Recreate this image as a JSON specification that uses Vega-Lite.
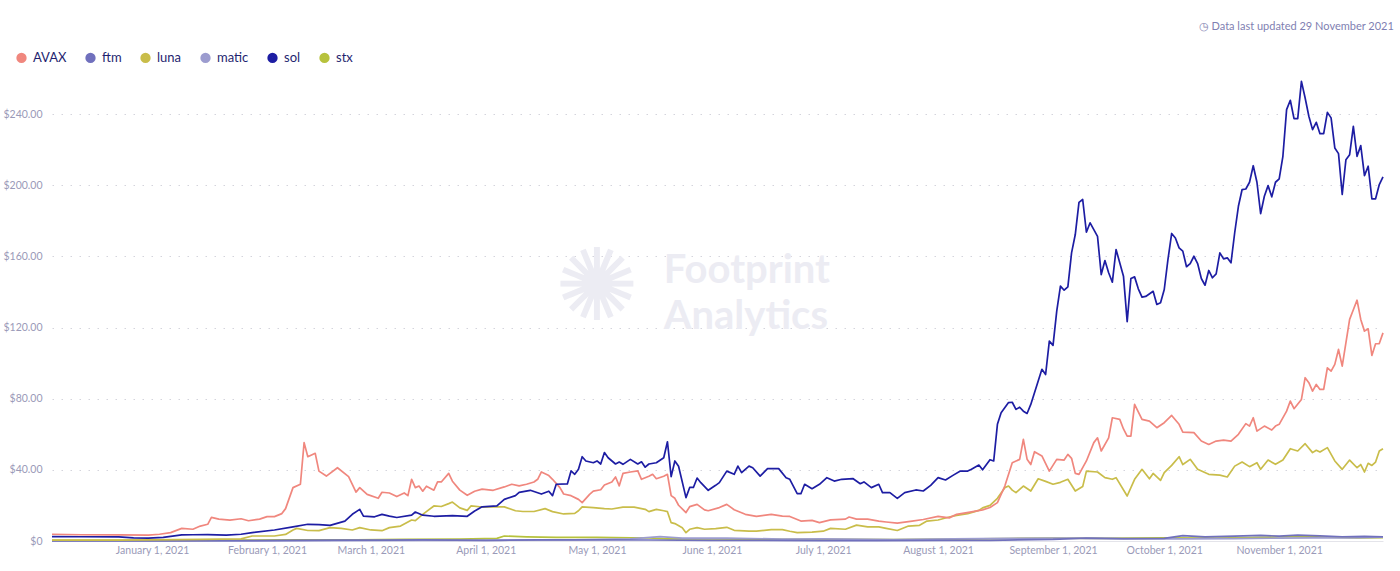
{
  "$schema": "https://vega.github.io/schema/vega-lite/v6.json",
  "description": "Token prices AVAX, ftm, luna, matic, sol, stx - Dec 2020 to Nov 2021",
  "autosize": {"type": "none"},
  "padding": {"left": 52, "top": 75, "right": 17, "bottom": 30},
  "width": 1331,
  "height": 466,
  "background": "white",
  "config": {"font": "Lato", "view": {"stroke": null}},
  "title": {
    "text": "◷  Data last updated 29 November 2021",
    "anchor": "end",
    "orient": "top",
    "offset": 19,
    "dx": 10,
    "fontSize": 11,
    "fontWeight": "normal",
    "color": "#7f7fb2",
    "font": "Lato"
  },
  "layer": [
    {
      "data": {"values": [{}]},
      "mark": {"type": "text", "text": "✺", "fontSize": 100, "color": "#ececf3", "align": "center", "baseline": "middle"},
      "encoding": {
        "x": {"datum": {"year": 2021, "month": 5, "date": 1}, "type": "temporal"},
        "y": {"datum": 141, "type": "quantitative"}
      }
    },
    {
      "data": {"values": [{}]},
      "mark": {"type": "text", "text": "Footprint", "fontSize": 40, "fontWeight": "bold", "color": "#ececf3", "align": "left", "baseline": "middle"},
      "encoding": {
        "x": {"datum": {"year": 2021, "month": 5, "date": 19}, "type": "temporal"},
        "y": {"datum": 152, "type": "quantitative"}
      }
    },
    {
      "data": {"values": [{}]},
      "mark": {"type": "text", "text": "Analytics", "fontSize": 40, "fontWeight": "bold", "color": "#ececf3", "align": "left", "baseline": "middle"},
      "encoding": {
        "x": {"datum": {"year": 2021, "month": 5, "date": 19}, "type": "temporal"},
        "y": {"datum": 126, "type": "quantitative"}
      }
    },
    {
      "data": {"values": [
        {"d":"2020-12-05","s":"stx","v":0.35},{"d":"2020-12-25","s":"stx","v":0.35},{"d":"2021-01-10","s":"stx","v":0.35},{"d":"2021-01-25","s":"stx","v":0.45},{"d":"2021-02-10","s":"stx","v":0.7},{"d":"2021-02-25","s":"stx","v":0.7},{"d":"2021-03-10","s":"stx","v":0.9},{"d":"2021-03-25","s":"stx","v":1.1},{"d":"2021-04-04","s":"stx","v":1.5},{"d":"2021-04-06","s":"stx","v":2.8},{"d":"2021-04-12","s":"stx","v":2.3},{"d":"2021-04-20","s":"stx","v":2.0},{"d":"2021-05-01","s":"stx","v":2.0},{"d":"2021-05-15","s":"stx","v":1.7},{"d":"2021-05-20","s":"stx","v":1.2},{"d":"2021-06-01","s":"stx","v":1.2},{"d":"2021-06-20","s":"stx","v":0.9},{"d":"2021-07-05","s":"stx","v":0.9},{"d":"2021-07-20","s":"stx","v":0.8},{"d":"2021-08-05","s":"stx","v":1.1},{"d":"2021-08-20","s":"stx","v":1.4},{"d":"2021-09-01","s":"stx","v":1.6},{"d":"2021-09-15","s":"stx","v":1.5},{"d":"2021-10-01","s":"stx","v":1.8},{"d":"2021-10-15","s":"stx","v":1.7},{"d":"2021-11-01","s":"stx","v":2.3},{"d":"2021-11-07","s":"stx","v":2.6},{"d":"2021-11-15","s":"stx","v":2.1},{"d":"2021-11-22","s":"stx","v":1.8},{"d":"2021-11-29","s":"stx","v":1.9},

        {"d":"2020-12-05","s":"matic","v":0.02},{"d":"2021-01-05","s":"matic","v":0.02},{"d":"2021-02-01","s":"matic","v":0.05},{"d":"2021-02-20","s":"matic","v":0.25},{"d":"2021-03-15","s":"matic","v":0.4},{"d":"2021-04-05","s":"matic","v":0.4},{"d":"2021-04-25","s":"matic","v":0.6},{"d":"2021-05-10","s":"matic","v":1.2},{"d":"2021-05-18","s":"matic","v":2.5},{"d":"2021-05-24","s":"matic","v":1.6},{"d":"2021-06-05","s":"matic","v":1.6},{"d":"2021-06-20","s":"matic","v":1.1},{"d":"2021-07-01","s":"matic","v":1.2},{"d":"2021-07-20","s":"matic","v":0.8},{"d":"2021-08-05","s":"matic","v":1.2},{"d":"2021-08-20","s":"matic","v":1.5},{"d":"2021-09-05","s":"matic","v":1.7},{"d":"2021-09-20","s":"matic","v":1.2},{"d":"2021-10-05","s":"matic","v":1.2},{"d":"2021-10-20","s":"matic","v":1.3},{"d":"2021-11-01","s":"matic","v":1.6},{"d":"2021-11-10","s":"matic","v":1.8},{"d":"2021-11-20","s":"matic","v":1.7},{"d":"2021-11-29","s":"matic","v":2.1},

        {"d":"2020-12-05","s":"ftm","v":0.05},{"d":"2020-12-20","s":"ftm","v":0.05},{"d":"2021-01-05","s":"ftm","v":0.1},{"d":"2021-01-20","s":"ftm","v":0.2},{"d":"2021-02-05","s":"ftm","v":0.3},{"d":"2021-02-20","s":"ftm","v":0.5},{"d":"2021-03-05","s":"ftm","v":0.45},{"d":"2021-03-15","s":"ftm","v":0.6},{"d":"2021-04-01","s":"ftm","v":0.4},{"d":"2021-04-15","s":"ftm","v":0.6},{"d":"2021-05-01","s":"ftm","v":0.6},{"d":"2021-05-15","s":"ftm","v":0.55},{"d":"2021-06-01","s":"ftm","v":0.35},{"d":"2021-06-15","s":"ftm","v":0.3},{"d":"2021-07-01","s":"ftm","v":0.25},{"d":"2021-07-15","s":"ftm","v":0.2},{"d":"2021-08-01","s":"ftm","v":0.3},{"d":"2021-08-15","s":"ftm","v":0.4},{"d":"2021-09-01","s":"ftm","v":0.9},{"d":"2021-09-10","s":"ftm","v":1.6},{"d":"2021-09-20","s":"ftm","v":1.3},{"d":"2021-10-01","s":"ftm","v":1.5},{"d":"2021-10-06","s":"ftm","v":3.0},{"d":"2021-10-12","s":"ftm","v":2.3},{"d":"2021-10-20","s":"ftm","v":2.7},{"d":"2021-10-27","s":"ftm","v":3.2},{"d":"2021-11-01","s":"ftm","v":2.7},{"d":"2021-11-06","s":"ftm","v":3.3},{"d":"2021-11-12","s":"ftm","v":2.9},{"d":"2021-11-18","s":"ftm","v":2.4},{"d":"2021-11-24","s":"ftm","v":2.6},{"d":"2021-11-29","s":"ftm","v":2.4},

        {"d":"2020-12-05","s":"luna","v":0.5},{"d":"2020-12-23","s":"luna","v":0.5},{"d":"2021-01-01","s":"luna","v":0.6},{"d":"2021-01-14","s":"luna","v":0.9},{"d":"2021-01-25","s":"luna","v":1.2},{"d":"2021-01-28","s":"luna","v":2.8},{"d":"2021-02-03","s":"luna","v":2.8},{"d":"2021-02-06","s":"luna","v":3.7},{"d":"2021-02-08","s":"luna","v":6.2},{"d":"2021-02-09","s":"luna","v":7.1},{"d":"2021-02-12","s":"luna","v":5.9},{"d":"2021-02-15","s":"luna","v":5.8},{"d":"2021-02-18","s":"luna","v":7.5},{"d":"2021-02-21","s":"luna","v":7.1},{"d":"2021-02-24","s":"luna","v":6.2},{"d":"2021-02-26","s":"luna","v":7.5},{"d":"2021-03-01","s":"luna","v":6.2},{"d":"2021-03-04","s":"luna","v":5.8},{"d":"2021-03-06","s":"luna","v":7.5},{"d":"2021-03-09","s":"luna","v":8.4},{"d":"2021-03-12","s":"luna","v":11.8},{"d":"2021-03-13","s":"luna","v":11.5},{"d":"2021-03-15","s":"luna","v":15},{"d":"2021-03-18","s":"luna","v":19.7},{"d":"2021-03-20","s":"luna","v":19.4},{"d":"2021-03-22","s":"luna","v":21},{"d":"2021-03-23","s":"luna","v":21.9},{"d":"2021-03-25","s":"luna","v":18.6},{"d":"2021-03-27","s":"luna","v":17.2},{"d":"2021-03-28","s":"luna","v":19.7},{"d":"2021-03-31","s":"luna","v":19.1},{"d":"2021-04-02","s":"luna","v":19.2},{"d":"2021-04-06","s":"luna","v":19.2},{"d":"2021-04-09","s":"luna","v":17},{"d":"2021-04-11","s":"luna","v":16.6},{"d":"2021-04-14","s":"luna","v":16.6},{"d":"2021-04-17","s":"luna","v":18.2},{"d":"2021-04-19","s":"luna","v":16.5},{"d":"2021-04-22","s":"luna","v":15.2},{"d":"2021-04-25","s":"luna","v":15.5},{"d":"2021-04-26","s":"luna","v":17},{"d":"2021-04-27","s":"luna","v":19.2},{"d":"2021-04-30","s":"luna","v":18.8},{"d":"2021-05-03","s":"luna","v":18.2},{"d":"2021-05-05","s":"luna","v":18},{"d":"2021-05-08","s":"luna","v":19},{"d":"2021-05-11","s":"luna","v":19},{"d":"2021-05-14","s":"luna","v":17.8},{"d":"2021-05-15","s":"luna","v":16.5},{"d":"2021-05-17","s":"luna","v":17.8},{"d":"2021-05-19","s":"luna","v":17},{"d":"2021-05-20","s":"luna","v":16.5},{"d":"2021-05-21","s":"luna","v":10.3},{"d":"2021-05-22","s":"luna","v":9.8},{"d":"2021-05-24","s":"luna","v":7.5},{"d":"2021-05-25","s":"luna","v":4.7},{"d":"2021-05-26","s":"luna","v":6.6},{"d":"2021-05-28","s":"luna","v":7.5},{"d":"2021-05-30","s":"luna","v":6.6},{"d":"2021-06-02","s":"luna","v":7},{"d":"2021-06-05","s":"luna","v":7.7},{"d":"2021-06-07","s":"luna","v":6},{"d":"2021-06-11","s":"luna","v":5.5},{"d":"2021-06-13","s":"luna","v":5.5},{"d":"2021-06-17","s":"luna","v":6.4},{"d":"2021-06-20","s":"luna","v":6.4},{"d":"2021-06-22","s":"luna","v":5.5},{"d":"2021-06-24","s":"luna","v":4.7},{"d":"2021-06-28","s":"luna","v":5},{"d":"2021-07-01","s":"luna","v":5.5},{"d":"2021-07-03","s":"luna","v":7.1},{"d":"2021-07-07","s":"luna","v":6.6},{"d":"2021-07-10","s":"luna","v":8.9},{"d":"2021-07-13","s":"luna","v":7.9},{"d":"2021-07-16","s":"luna","v":7.9},{"d":"2021-07-18","s":"luna","v":7.1},{"d":"2021-07-21","s":"luna","v":5.9},{"d":"2021-07-24","s":"luna","v":8.4},{"d":"2021-07-27","s":"luna","v":8.8},{"d":"2021-07-29","s":"luna","v":11.2},{"d":"2021-08-01","s":"luna","v":11.8},{"d":"2021-08-04","s":"luna","v":13.5},{"d":"2021-08-06","s":"luna","v":14.4},{"d":"2021-08-09","s":"luna","v":15.4},{"d":"2021-08-12","s":"luna","v":17.2},{"d":"2021-08-13","s":"luna","v":18.6},{"d":"2021-08-15","s":"luna","v":20},{"d":"2021-08-17","s":"luna","v":24},{"d":"2021-08-19","s":"luna","v":30},{"d":"2021-08-20","s":"luna","v":30.9},{"d":"2021-08-21","s":"luna","v":28.6},{"d":"2021-08-22","s":"luna","v":27.2},{"d":"2021-08-24","s":"luna","v":30.9},{"d":"2021-08-26","s":"luna","v":28.1},{"d":"2021-08-28","s":"luna","v":35},{"d":"2021-08-30","s":"luna","v":33.5},{"d":"2021-09-01","s":"luna","v":31.9},{"d":"2021-09-03","s":"luna","v":33},{"d":"2021-09-05","s":"luna","v":34.7},{"d":"2021-09-07","s":"luna","v":28.1},{"d":"2021-09-09","s":"luna","v":30.6},{"d":"2021-09-10","s":"luna","v":39.3},{"d":"2021-09-13","s":"luna","v":38.8},{"d":"2021-09-15","s":"luna","v":35.6},{"d":"2021-09-17","s":"luna","v":34.7},{"d":"2021-09-18","s":"luna","v":35.6},{"d":"2021-09-21","s":"luna","v":25.3},{"d":"2021-09-23","s":"luna","v":34.7},{"d":"2021-09-25","s":"luna","v":40.3},{"d":"2021-09-27","s":"luna","v":35},{"d":"2021-09-28","s":"luna","v":38},{"d":"2021-09-30","s":"luna","v":34.1},{"d":"2021-10-01","s":"luna","v":38.4},{"d":"2021-10-03","s":"luna","v":42.5},{"d":"2021-10-05","s":"luna","v":47.4},{"d":"2021-10-06","s":"luna","v":43},{"d":"2021-10-08","s":"luna","v":45.9},{"d":"2021-10-10","s":"luna","v":40.3},{"d":"2021-10-13","s":"luna","v":37.5},{"d":"2021-10-16","s":"luna","v":37},{"d":"2021-10-18","s":"luna","v":36},{"d":"2021-10-20","s":"luna","v":42.1},{"d":"2021-10-22","s":"luna","v":44.4},{"d":"2021-10-24","s":"luna","v":41.8},{"d":"2021-10-26","s":"luna","v":44},{"d":"2021-10-27","s":"luna","v":40.3},{"d":"2021-10-29","s":"luna","v":45.5},{"d":"2021-10-31","s":"luna","v":43.1},{"d":"2021-11-02","s":"luna","v":45.5},{"d":"2021-11-04","s":"luna","v":51.9},{"d":"2021-11-06","s":"luna","v":50.6},{"d":"2021-11-08","s":"luna","v":54.7},{"d":"2021-11-10","s":"luna","v":49.7},{"d":"2021-11-11","s":"luna","v":51},{"d":"2021-11-12","s":"luna","v":50},{"d":"2021-11-14","s":"luna","v":52.5},{"d":"2021-11-16","s":"luna","v":45},{"d":"2021-11-18","s":"luna","v":40.3},{"d":"2021-11-20","s":"luna","v":45.5},{"d":"2021-11-22","s":"luna","v":41.2},{"d":"2021-11-23","s":"luna","v":43},{"d":"2021-11-24","s":"luna","v":38.8},{"d":"2021-11-25","s":"luna","v":43.7},{"d":"2021-11-26","s":"luna","v":42.5},{"d":"2021-11-27","s":"luna","v":44.4},{"d":"2021-11-28","s":"luna","v":50.6},{"d":"2021-11-29","s":"luna","v":51.9},

        {"d":"2020-12-05","s":"AVAX","v":3.8},{"d":"2020-12-13","s":"AVAX","v":3.5},{"d":"2020-12-23","s":"AVAX","v":3.4},{"d":"2020-12-31","s":"AVAX","v":3.3},{"d":"2021-01-03","s":"AVAX","v":3.8},{"d":"2021-01-06","s":"AVAX","v":4.7},{"d":"2021-01-09","s":"AVAX","v":7.1},{"d":"2021-01-12","s":"AVAX","v":6.6},{"d":"2021-01-14","s":"AVAX","v":8.4},{"d":"2021-01-16","s":"AVAX","v":9.4},{"d":"2021-01-17","s":"AVAX","v":13.3},{"d":"2021-01-19","s":"AVAX","v":12.3},{"d":"2021-01-22","s":"AVAX","v":11.7},{"d":"2021-01-25","s":"AVAX","v":12.5},{"d":"2021-01-27","s":"AVAX","v":11.4},{"d":"2021-01-30","s":"AVAX","v":12.3},{"d":"2021-02-01","s":"AVAX","v":13.7},{"d":"2021-02-03","s":"AVAX","v":13.7},{"d":"2021-02-05","s":"AVAX","v":15.4},{"d":"2021-02-06","s":"AVAX","v":18.2},{"d":"2021-02-08","s":"AVAX","v":30},{"d":"2021-02-10","s":"AVAX","v":31.9},{"d":"2021-02-11","s":"AVAX","v":55.3},{"d":"2021-02-12","s":"AVAX","v":47.4},{"d":"2021-02-14","s":"AVAX","v":49.3},{"d":"2021-02-15","s":"AVAX","v":39.3},{"d":"2021-02-17","s":"AVAX","v":36.5},{"d":"2021-02-20","s":"AVAX","v":41.2},{"d":"2021-02-23","s":"AVAX","v":36.2},{"d":"2021-02-25","s":"AVAX","v":27.5},{"d":"2021-02-26","s":"AVAX","v":30},{"d":"2021-02-28","s":"AVAX","v":26.2},{"d":"2021-03-03","s":"AVAX","v":24},{"d":"2021-03-04","s":"AVAX","v":27.4},{"d":"2021-03-06","s":"AVAX","v":27},{"d":"2021-03-08","s":"AVAX","v":25},{"d":"2021-03-10","s":"AVAX","v":27},{"d":"2021-03-11","s":"AVAX","v":25.5},{"d":"2021-03-12","s":"AVAX","v":34.7},{"d":"2021-03-13","s":"AVAX","v":30},{"d":"2021-03-14","s":"AVAX","v":30.9},{"d":"2021-03-15","s":"AVAX","v":28},{"d":"2021-03-16","s":"AVAX","v":30.8},{"d":"2021-03-18","s":"AVAX","v":28.6},{"d":"2021-03-19","s":"AVAX","v":33.2},{"d":"2021-03-20","s":"AVAX","v":33.2},{"d":"2021-03-22","s":"AVAX","v":38},{"d":"2021-03-23","s":"AVAX","v":33.6},{"d":"2021-03-25","s":"AVAX","v":28.6},{"d":"2021-03-27","s":"AVAX","v":25.7},{"d":"2021-03-29","s":"AVAX","v":28},{"d":"2021-03-31","s":"AVAX","v":29.2},{"d":"2021-04-03","s":"AVAX","v":28.5},{"d":"2021-04-06","s":"AVAX","v":30.4},{"d":"2021-04-08","s":"AVAX","v":31.9},{"d":"2021-04-10","s":"AVAX","v":31},{"d":"2021-04-12","s":"AVAX","v":31.9},{"d":"2021-04-14","s":"AVAX","v":33.2},{"d":"2021-04-15","s":"AVAX","v":34.7},{"d":"2021-04-16","s":"AVAX","v":38.8},{"d":"2021-04-18","s":"AVAX","v":36.8},{"d":"2021-04-19","s":"AVAX","v":34.7},{"d":"2021-04-21","s":"AVAX","v":30},{"d":"2021-04-22","s":"AVAX","v":26.4},{"d":"2021-04-24","s":"AVAX","v":25.5},{"d":"2021-04-26","s":"AVAX","v":23.4},{"d":"2021-04-27","s":"AVAX","v":21.6},{"d":"2021-04-29","s":"AVAX","v":26.2},{"d":"2021-04-30","s":"AVAX","v":28},{"d":"2021-05-02","s":"AVAX","v":28.8},{"d":"2021-05-03","s":"AVAX","v":31.5},{"d":"2021-05-05","s":"AVAX","v":33.2},{"d":"2021-05-06","s":"AVAX","v":36},{"d":"2021-05-07","s":"AVAX","v":31},{"d":"2021-05-08","s":"AVAX","v":38},{"d":"2021-05-10","s":"AVAX","v":38.8},{"d":"2021-05-12","s":"AVAX","v":39.4},{"d":"2021-05-13","s":"AVAX","v":34.7},{"d":"2021-05-15","s":"AVAX","v":36.4},{"d":"2021-05-16","s":"AVAX","v":37.5},{"d":"2021-05-17","s":"AVAX","v":35},{"d":"2021-05-19","s":"AVAX","v":36.4},{"d":"2021-05-20","s":"AVAX","v":37.5},{"d":"2021-05-21","s":"AVAX","v":25.5},{"d":"2021-05-22","s":"AVAX","v":24},{"d":"2021-05-23","s":"AVAX","v":20.1},{"d":"2021-05-25","s":"AVAX","v":16},{"d":"2021-05-26","s":"AVAX","v":19.3},{"d":"2021-05-28","s":"AVAX","v":20.6},{"d":"2021-05-30","s":"AVAX","v":17.5},{"d":"2021-05-31","s":"AVAX","v":17},{"d":"2021-06-03","s":"AVAX","v":18.8},{"d":"2021-06-05","s":"AVAX","v":20.6},{"d":"2021-06-07","s":"AVAX","v":17.6},{"d":"2021-06-10","s":"AVAX","v":15},{"d":"2021-06-13","s":"AVAX","v":13.8},{"d":"2021-06-17","s":"AVAX","v":15},{"d":"2021-06-20","s":"AVAX","v":14},{"d":"2021-06-22","s":"AVAX","v":13.8},{"d":"2021-06-25","s":"AVAX","v":11.2},{"d":"2021-06-28","s":"AVAX","v":11.6},{"d":"2021-06-30","s":"AVAX","v":10.3},{"d":"2021-07-03","s":"AVAX","v":11.9},{"d":"2021-07-07","s":"AVAX","v":12.3},{"d":"2021-07-08","s":"AVAX","v":13.5},{"d":"2021-07-10","s":"AVAX","v":12.3},{"d":"2021-07-13","s":"AVAX","v":12.3},{"d":"2021-07-16","s":"AVAX","v":11.2},{"d":"2021-07-18","s":"AVAX","v":10.7},{"d":"2021-07-21","s":"AVAX","v":10},{"d":"2021-07-25","s":"AVAX","v":11.2},{"d":"2021-07-28","s":"AVAX","v":12.1},{"d":"2021-08-01","s":"AVAX","v":13.8},{"d":"2021-08-04","s":"AVAX","v":13},{"d":"2021-08-06","s":"AVAX","v":15},{"d":"2021-08-10","s":"AVAX","v":16.4},{"d":"2021-08-13","s":"AVAX","v":17.5},{"d":"2021-08-15","s":"AVAX","v":18.8},{"d":"2021-08-17","s":"AVAX","v":21.6},{"d":"2021-08-19","s":"AVAX","v":30.9},{"d":"2021-08-21","s":"AVAX","v":44},{"d":"2021-08-23","s":"AVAX","v":45.9},{"d":"2021-08-24","s":"AVAX","v":57.1},{"d":"2021-08-25","s":"AVAX","v":46},{"d":"2021-08-26","s":"AVAX","v":43},{"d":"2021-08-27","s":"AVAX","v":50.2},{"d":"2021-08-29","s":"AVAX","v":47.8},{"d":"2021-08-31","s":"AVAX","v":39.3},{"d":"2021-09-02","s":"AVAX","v":45.9},{"d":"2021-09-04","s":"AVAX","v":45.5},{"d":"2021-09-05","s":"AVAX","v":48.7},{"d":"2021-09-06","s":"AVAX","v":46.5},{"d":"2021-09-07","s":"AVAX","v":38},{"d":"2021-09-08","s":"AVAX","v":37.5},{"d":"2021-09-10","s":"AVAX","v":45},{"d":"2021-09-12","s":"AVAX","v":55.3},{"d":"2021-09-13","s":"AVAX","v":58},{"d":"2021-09-14","s":"AVAX","v":50.6},{"d":"2021-09-16","s":"AVAX","v":58},{"d":"2021-09-17","s":"AVAX","v":69.3},{"d":"2021-09-19","s":"AVAX","v":68.4},{"d":"2021-09-20","s":"AVAX","v":63},{"d":"2021-09-21","s":"AVAX","v":59},{"d":"2021-09-22","s":"AVAX","v":59},{"d":"2021-09-23","s":"AVAX","v":76.8},{"d":"2021-09-25","s":"AVAX","v":68.4},{"d":"2021-09-27","s":"AVAX","v":67.4},{"d":"2021-09-29","s":"AVAX","v":63.7},{"d":"2021-10-01","s":"AVAX","v":66.5},{"d":"2021-10-03","s":"AVAX","v":70.6},{"d":"2021-10-05","s":"AVAX","v":65.6},{"d":"2021-10-06","s":"AVAX","v":61.2},{"d":"2021-10-09","s":"AVAX","v":60.9},{"d":"2021-10-11","s":"AVAX","v":56.2},{"d":"2021-10-13","s":"AVAX","v":54.3},{"d":"2021-10-15","s":"AVAX","v":56.2},{"d":"2021-10-17","s":"AVAX","v":56.7},{"d":"2021-10-19","s":"AVAX","v":56.2},{"d":"2021-10-21","s":"AVAX","v":60},{"d":"2021-10-23","s":"AVAX","v":66},{"d":"2021-10-24","s":"AVAX","v":64.6},{"d":"2021-10-25","s":"AVAX","v":69.3},{"d":"2021-10-26","s":"AVAX","v":61.8},{"d":"2021-10-28","s":"AVAX","v":64.6},{"d":"2021-10-30","s":"AVAX","v":62.4},{"d":"2021-10-31","s":"AVAX","v":64.6},{"d":"2021-11-01","s":"AVAX","v":65.6},{"d":"2021-11-03","s":"AVAX","v":73},{"d":"2021-11-04","s":"AVAX","v":78.7},{"d":"2021-11-05","s":"AVAX","v":74.4},{"d":"2021-11-07","s":"AVAX","v":79.6},{"d":"2021-11-08","s":"AVAX","v":91.8},{"d":"2021-11-09","s":"AVAX","v":89},{"d":"2021-11-10","s":"AVAX","v":84.3},{"d":"2021-11-11","s":"AVAX","v":88},{"d":"2021-11-12","s":"AVAX","v":85.2},{"d":"2021-11-13","s":"AVAX","v":85.2},{"d":"2021-11-14","s":"AVAX","v":97.4},{"d":"2021-11-15","s":"AVAX","v":95.5},{"d":"2021-11-16","s":"AVAX","v":99.3},{"d":"2021-11-17","s":"AVAX","v":107.7},{"d":"2021-11-18","s":"AVAX","v":98.3},{"d":"2021-11-20","s":"AVAX","v":124.6},{"d":"2021-11-21","s":"AVAX","v":130},{"d":"2021-11-22","s":"AVAX","v":135.4},{"d":"2021-11-23","s":"AVAX","v":124.6},{"d":"2021-11-24","s":"AVAX","v":118},{"d":"2021-11-25","s":"AVAX","v":119.3},{"d":"2021-11-26","s":"AVAX","v":104.3},{"d":"2021-11-27","s":"AVAX","v":110.9},{"d":"2021-11-28","s":"AVAX","v":111},{"d":"2021-11-29","s":"AVAX","v":117},

        {"d":"2020-12-05","s":"sol","v":2.5},{"d":"2020-12-13","s":"sol","v":2.4},{"d":"2020-12-23","s":"sol","v":2.3},{"d":"2020-12-27","s":"sol","v":1.8},{"d":"2020-12-31","s":"sol","v":1.6},{"d":"2021-01-04","s":"sol","v":2.0},{"d":"2021-01-09","s":"sol","v":3.4},{"d":"2021-01-12","s":"sol","v":3.5},{"d":"2021-01-16","s":"sol","v":3.6},{"d":"2021-01-21","s":"sol","v":3.3},{"d":"2021-01-25","s":"sol","v":3.8},{"d":"2021-01-28","s":"sol","v":4.7},{"d":"2021-02-03","s":"sol","v":6.2},{"d":"2021-02-08","s":"sol","v":7.9},{"d":"2021-02-12","s":"sol","v":9.4},{"d":"2021-02-15","s":"sol","v":9.2},{"d":"2021-02-18","s":"sol","v":8.8},{"d":"2021-02-22","s":"sol","v":11.2},{"d":"2021-02-24","s":"sol","v":15},{"d":"2021-02-26","s":"sol","v":17.8},{"d":"2021-02-27","s":"sol","v":14},{"d":"2021-03-02","s":"sol","v":13.6},{"d":"2021-03-04","s":"sol","v":15},{"d":"2021-03-06","s":"sol","v":14},{"d":"2021-03-08","s":"sol","v":13.2},{"d":"2021-03-12","s":"sol","v":14.5},{"d":"2021-03-13","s":"sol","v":16.3},{"d":"2021-03-15","s":"sol","v":14.5},{"d":"2021-03-18","s":"sol","v":13.9},{"d":"2021-03-23","s":"sol","v":14.3},{"d":"2021-03-27","s":"sol","v":13.9},{"d":"2021-03-29","s":"sol","v":16.9},{"d":"2021-03-31","s":"sol","v":19.2},{"d":"2021-04-04","s":"sol","v":19.7},{"d":"2021-04-06","s":"sol","v":23.4},{"d":"2021-04-09","s":"sol","v":25.5},{"d":"2021-04-10","s":"sol","v":27.3},{"d":"2021-04-13","s":"sol","v":28.5},{"d":"2021-04-16","s":"sol","v":26.4},{"d":"2021-04-18","s":"sol","v":28},{"d":"2021-04-19","s":"sol","v":25.5},{"d":"2021-04-20","s":"sol","v":31.9},{"d":"2021-04-23","s":"sol","v":32.1},{"d":"2021-04-24","s":"sol","v":39.4},{"d":"2021-04-25","s":"sol","v":37.5},{"d":"2021-04-26","s":"sol","v":40.3},{"d":"2021-04-27","s":"sol","v":47.4},{"d":"2021-04-28","s":"sol","v":45},{"d":"2021-04-30","s":"sol","v":44},{"d":"2021-05-01","s":"sol","v":45},{"d":"2021-05-02","s":"sol","v":43.3},{"d":"2021-05-03","s":"sol","v":49.7},{"d":"2021-05-04","s":"sol","v":46.8},{"d":"2021-05-06","s":"sol","v":43.3},{"d":"2021-05-07","s":"sol","v":44.4},{"d":"2021-05-08","s":"sol","v":43.1},{"d":"2021-05-10","s":"sol","v":45.9},{"d":"2021-05-12","s":"sol","v":43.3},{"d":"2021-05-13","s":"sol","v":44.5},{"d":"2021-05-14","s":"sol","v":41.5},{"d":"2021-05-15","s":"sol","v":43.3},{"d":"2021-05-17","s":"sol","v":44},{"d":"2021-05-19","s":"sol","v":46.8},{"d":"2021-05-20","s":"sol","v":55.8},{"d":"2021-05-21","s":"sol","v":36.2},{"d":"2021-05-22","s":"sol","v":45},{"d":"2021-05-23","s":"sol","v":42},{"d":"2021-05-25","s":"sol","v":24.4},{"d":"2021-05-26","s":"sol","v":30.1},{"d":"2021-05-27","s":"sol","v":30.1},{"d":"2021-05-28","s":"sol","v":35.4},{"d":"2021-05-29","s":"sol","v":32.8},{"d":"2021-05-31","s":"sol","v":28.5},{"d":"2021-06-02","s":"sol","v":31.3},{"d":"2021-06-03","s":"sol","v":32.8},{"d":"2021-06-05","s":"sol","v":39.3},{"d":"2021-06-07","s":"sol","v":37.5},{"d":"2021-06-08","s":"sol","v":42.1},{"d":"2021-06-09","s":"sol","v":38.4},{"d":"2021-06-11","s":"sol","v":42.1},{"d":"2021-06-12","s":"sol","v":41.2},{"d":"2021-06-14","s":"sol","v":36.5},{"d":"2021-06-16","s":"sol","v":40.7},{"d":"2021-06-19","s":"sol","v":40.7},{"d":"2021-06-21","s":"sol","v":35.6},{"d":"2021-06-22","s":"sol","v":34.7},{"d":"2021-06-24","s":"sol","v":26.6},{"d":"2021-06-25","s":"sol","v":26.6},{"d":"2021-06-26","s":"sol","v":31.9},{"d":"2021-06-28","s":"sol","v":29.4},{"d":"2021-06-30","s":"sol","v":31.9},{"d":"2021-07-02","s":"sol","v":35.6},{"d":"2021-07-04","s":"sol","v":33.7},{"d":"2021-07-06","s":"sol","v":34.7},{"d":"2021-07-09","s":"sol","v":35.1},{"d":"2021-07-11","s":"sol","v":32.2},{"d":"2021-07-12","s":"sol","v":33.2},{"d":"2021-07-14","s":"sol","v":30},{"d":"2021-07-16","s":"sol","v":31.9},{"d":"2021-07-17","s":"sol","v":27.2},{"d":"2021-07-19","s":"sol","v":27.2},{"d":"2021-07-21","s":"sol","v":24},{"d":"2021-07-23","s":"sol","v":27.2},{"d":"2021-07-26","s":"sol","v":28.7},{"d":"2021-07-28","s":"sol","v":28.1},{"d":"2021-07-30","s":"sol","v":31.3},{"d":"2021-08-01","s":"sol","v":35.6},{"d":"2021-08-03","s":"sol","v":34.3},{"d":"2021-08-05","s":"sol","v":36.9},{"d":"2021-08-07","s":"sol","v":39.3},{"d":"2021-08-09","s":"sol","v":39.3},{"d":"2021-08-10","s":"sol","v":40.3},{"d":"2021-08-12","s":"sol","v":42.7},{"d":"2021-08-13","s":"sol","v":40},{"d":"2021-08-15","s":"sol","v":45.7},{"d":"2021-08-16","s":"sol","v":45},{"d":"2021-08-17","s":"sol","v":65.6},{"d":"2021-08-18","s":"sol","v":72.1},{"d":"2021-08-20","s":"sol","v":77.8},{"d":"2021-08-21","s":"sol","v":78},{"d":"2021-08-22","s":"sol","v":74},{"d":"2021-08-23","s":"sol","v":75.2},{"d":"2021-08-24","s":"sol","v":73},{"d":"2021-08-25","s":"sol","v":71.7},{"d":"2021-08-26","s":"sol","v":76.8},{"d":"2021-08-28","s":"sol","v":89.9},{"d":"2021-08-29","s":"sol","v":96.5},{"d":"2021-08-30","s":"sol","v":93.6},{"d":"2021-08-31","s":"sol","v":112.4},{"d":"2021-09-01","s":"sol","v":110},{"d":"2021-09-02","s":"sol","v":129.2},{"d":"2021-09-03","s":"sol","v":143.3},{"d":"2021-09-04","s":"sol","v":141},{"d":"2021-09-05","s":"sol","v":142.9},{"d":"2021-09-06","s":"sol","v":162},{"d":"2021-09-07","s":"sol","v":172.3},{"d":"2021-09-08","s":"sol","v":190.4},{"d":"2021-09-09","s":"sol","v":192},{"d":"2021-09-10","s":"sol","v":173.6},{"d":"2021-09-11","s":"sol","v":178.9},{"d":"2021-09-12","s":"sol","v":175.1},{"d":"2021-09-13","s":"sol","v":171.3},{"d":"2021-09-14","s":"sol","v":149.8},{"d":"2021-09-15","s":"sol","v":157.7},{"d":"2021-09-16","s":"sol","v":150.8},{"d":"2021-09-17","s":"sol","v":145.5},{"d":"2021-09-18","s":"sol","v":163.9},{"d":"2021-09-20","s":"sol","v":148.9},{"d":"2021-09-21","s":"sol","v":123.3},{"d":"2021-09-22","s":"sol","v":147.6},{"d":"2021-09-23","s":"sol","v":148.5},{"d":"2021-09-24","s":"sol","v":141.8},{"d":"2021-09-25","s":"sol","v":137.1},{"d":"2021-09-26","s":"sol","v":137.5},{"d":"2021-09-28","s":"sol","v":140.4},{"d":"2021-09-29","s":"sol","v":133},{"d":"2021-09-30","s":"sol","v":134},{"d":"2021-10-01","s":"sol","v":141.4},{"d":"2021-10-02","s":"sol","v":158.3},{"d":"2021-10-03","s":"sol","v":172.9},{"d":"2021-10-04","s":"sol","v":170.4},{"d":"2021-10-05","s":"sol","v":164.8},{"d":"2021-10-06","s":"sol","v":163},{"d":"2021-10-07","s":"sol","v":154.2},{"d":"2021-10-08","s":"sol","v":156},{"d":"2021-10-09","s":"sol","v":160.1},{"d":"2021-10-10","s":"sol","v":156},{"d":"2021-10-11","s":"sol","v":147.6},{"d":"2021-10-12","s":"sol","v":143.8},{"d":"2021-10-13","s":"sol","v":152.1},{"d":"2021-10-14","s":"sol","v":148},{"d":"2021-10-15","s":"sol","v":150.2},{"d":"2021-10-16","s":"sol","v":162},{"d":"2021-10-17","s":"sol","v":158.6},{"d":"2021-10-18","s":"sol","v":159.2},{"d":"2021-10-19","s":"sol","v":156.4},{"d":"2021-10-20","s":"sol","v":173.3},{"d":"2021-10-21","s":"sol","v":188.2},{"d":"2021-10-22","s":"sol","v":197.6},{"d":"2021-10-23","s":"sol","v":197.9},{"d":"2021-10-24","s":"sol","v":201.7},{"d":"2021-10-25","s":"sol","v":211},{"d":"2021-10-26","s":"sol","v":201.7},{"d":"2021-10-27","s":"sol","v":184.1},{"d":"2021-10-28","s":"sol","v":193.8},{"d":"2021-10-29","s":"sol","v":199.8},{"d":"2021-10-30","s":"sol","v":193.5},{"d":"2021-10-31","s":"sol","v":201.7},{"d":"2021-11-01","s":"sol","v":203.6},{"d":"2021-11-02","s":"sol","v":216.3},{"d":"2021-11-03","s":"sol","v":242.5},{"d":"2021-11-04","s":"sol","v":247.8},{"d":"2021-11-05","s":"sol","v":237.5},{"d":"2021-11-06","s":"sol","v":237.5},{"d":"2021-11-07","s":"sol","v":258.4},{"d":"2021-11-08","s":"sol","v":249.1},{"d":"2021-11-09","s":"sol","v":238.8},{"d":"2021-11-10","s":"sol","v":231.3},{"d":"2021-11-11","s":"sol","v":235.4},{"d":"2021-11-12","s":"sol","v":229},{"d":"2021-11-13","s":"sol","v":229},{"d":"2021-11-14","s":"sol","v":241},{"d":"2021-11-15","s":"sol","v":237.9},{"d":"2021-11-16","s":"sol","v":221},{"d":"2021-11-17","s":"sol","v":217.8},{"d":"2021-11-18","s":"sol","v":194.8},{"d":"2021-11-19","s":"sol","v":214.4},{"d":"2021-11-20","s":"sol","v":217.2},{"d":"2021-11-21","s":"sol","v":233.1},{"d":"2021-11-22","s":"sol","v":216.3},{"d":"2021-11-23","s":"sol","v":222.3},{"d":"2021-11-24","s":"sol","v":205.4},{"d":"2021-11-25","s":"sol","v":210.7},{"d":"2021-11-26","s":"sol","v":192.4},{"d":"2021-11-27","s":"sol","v":192.4},{"d":"2021-11-28","s":"sol","v":200.4},{"d":"2021-11-29","s":"sol","v":204.7}
      ]},
      "mark": {"type": "line", "strokeWidth": 1.7, "strokeJoin": "round"},
      "encoding": {
        "x": {
          "field": "d",
          "type": "temporal",
          "title": null,
          "scale": {"nice": false},
          "axis": {
            "format": "%B %-d, %Y",
            "tickCount": {"interval": "month", "step": 1},
            "grid": false,
            "ticks": false,
            "domain": true,
            "domainColor": "#e4e4ea",
            "labelColor": "#9a9ab8",
            "labelFontSize": 10.5,
            "labelPadding": 4,
            "labelFont": "Lato"
          }
        },
        "y": {
          "field": "v",
          "type": "quantitative",
          "title": null,
          "scale": {"domain": [0, 262], "nice": false},
          "axis": {
            "values": [0, 20, 40, 60, 80, 100, 120, 140, 160, 180, 200, 220, 240],
            "labelExpr": "datum.value == 0 ? '$0' : '$' + format(datum.value, '.2f')",
            "grid": true,
            "gridColor": "#d4d4dc",
            "gridDash": [1.5, 7.5],
            "gridWidth": 1,
            "domain": false,
            "ticks": false,
            "labelColor": "#9a9ab8",
            "labelFontSize": 10.5,
            "labelPadding": 10,
            "labelFont": "Lato"
          }
        },
        "color": {
          "field": "s",
          "type": "nominal",
          "scale": {
            "domain": ["AVAX", "ftm", "luna", "matic", "sol", "stx"],
            "range": ["#f0877e", "#7070bd", "#c9bd4a", "#9c9ccf", "#1d1da3", "#b7c23c"]
          },
          "legend": {
            "title": null,
            "orient": "none",
            "legendX": -37,
            "legendY": -24,
            "direction": "horizontal",
            "symbolType": "circle",
            "symbolSize": 28,
            "symbolStrokeWidth": 5,
            "labelFontSize": 13,
            "labelColor": "#1f1f70",
            "labelFont": "Lato",
            "labelOffset": 5,
            "columnPadding": 10
          }
        }
      }
    }
  ]
}
